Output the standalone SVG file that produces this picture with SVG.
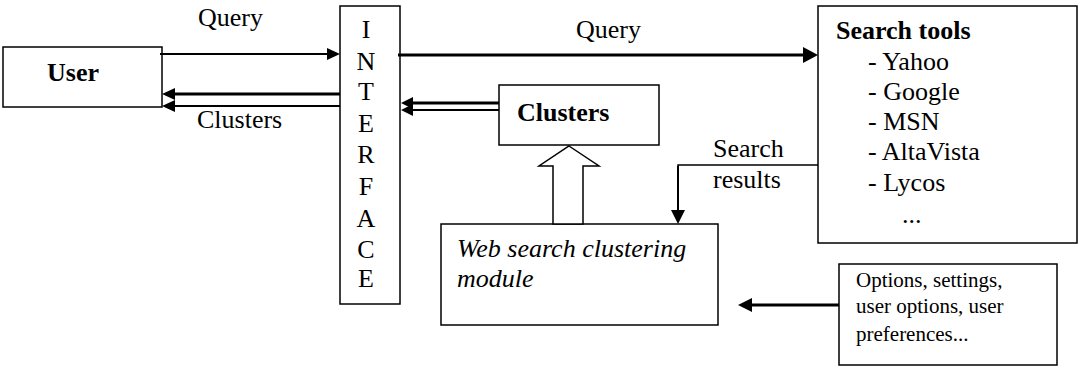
<svg xmlns="http://www.w3.org/2000/svg" width="1078" height="368" viewBox="0 0 1078 368">
<style>
.box{fill:#fff;stroke:#000;stroke-width:1.5}
.t{font-family:"Liberation Serif","Times New Roman",serif;font-size:26px;fill:#000}
.b{font-weight:bold}
.i{font-style:italic}
.s{font-size:21px}
.ln{stroke:#000;fill:none}
.hd{fill:#000;stroke:none}
</style>
<rect width="1078" height="368" fill="#fff"/>
<g id="user"><rect class="box" x="3" y="47" width="159" height="60"/><text class="t b" x="47" y="81">User</text></g>
<g id="interface"><rect class="box" x="340" y="6" width="60" height="298"/>
<text class="t" text-anchor="middle" x="366"><tspan x="366" y="38">I</tspan><tspan x="366" y="70">N</tspan><tspan x="366" y="100">T</tspan><tspan x="366" y="132">E</tspan><tspan x="366" y="163">R</tspan><tspan x="366" y="195">F</tspan><tspan x="366" y="227">A</tspan><tspan x="366" y="258">C</tspan><tspan x="366" y="287">E</tspan></text></g>
<g id="clusters"><rect class="box" x="499" y="85" width="160" height="60"/><text class="t b" x="517" y="121">Clusters</text></g>
<g id="search-tools"><rect class="box" x="818" y="6" width="259" height="237"/>
<text class="t b" x="836" y="39">Search tools</text>
<text class="t" x="868" y="70">- Yahoo</text>
<text class="t" x="868" y="100">- Google</text>
<text class="t" x="868" y="130">- MSN</text>
<text class="t" x="868" y="160">- AltaVista</text>
<text class="t" x="868" y="191">- Lycos</text>
<text class="t" x="902" y="223">...</text></g>
<g id="module"><rect class="box" x="441" y="224" width="277" height="101"/>
<text class="t i" x="457" y="257">Web search clustering</text>
<text class="t i" x="457" y="287">module</text></g>
<g id="options"><rect class="box" x="839" y="264" width="218" height="101"/>
<text class="t s" x="856" y="287">Options, settings,</text>
<text class="t s" x="856" y="313">user options, user</text>
<text class="t s" x="856" y="341">preferences...</text></g>
<g id="connectors">
<line class="ln" x1="160" y1="54" x2="330" y2="54" stroke-width="2"/>
<polygon class="hd" points="340,54 327,48 327,60"/>
<line class="ln" x1="340" y1="94" x2="172" y2="94" stroke-width="3"/>
<polygon class="hd" points="162,94 175,88 175,100"/>
<line class="ln" x1="340" y1="106" x2="172" y2="106" stroke-width="2"/>
<polygon class="hd" points="162,106 175,100 175,112"/>
<line class="ln" x1="398" y1="55" x2="806" y2="55" stroke-width="3"/>
<polygon class="hd" points="818,55 803,47 803,63"/>
<line class="ln" x1="499" y1="103" x2="410" y2="103" stroke-width="3"/>
<polygon class="hd" points="401,103 413,97 413,109"/>
<line class="ln" x1="499" y1="110" x2="410" y2="110" stroke-width="2"/>
<polygon class="hd" points="401,110 413,104 413,116"/>
<polygon points="569,146 599,166 583,166 583,224 553,224 553,166 539,166" fill="#fff" stroke="#000" stroke-width="1.5"/>
<polyline class="ln" points="818,165 678,165 678,212" stroke-width="1.5"/>
<line class="ln" x1="678" y1="166" x2="678" y2="212" stroke-width="2"/>
<polygon class="hd" points="678,224 671,210 685,210"/>
<line class="ln" x1="839" y1="305" x2="748" y2="305" stroke-width="3"/>
<polygon class="hd" points="738,305 752,298 752,312"/>
<text class="t" x="198" y="26">Query</text>
<text class="t" x="197" y="128">Clusters</text>
<text class="t" x="576" y="38">Query</text>
<text class="t" x="713" y="157">Search</text>
<text class="t" x="713" y="188">results</text>
</g>
</svg>
